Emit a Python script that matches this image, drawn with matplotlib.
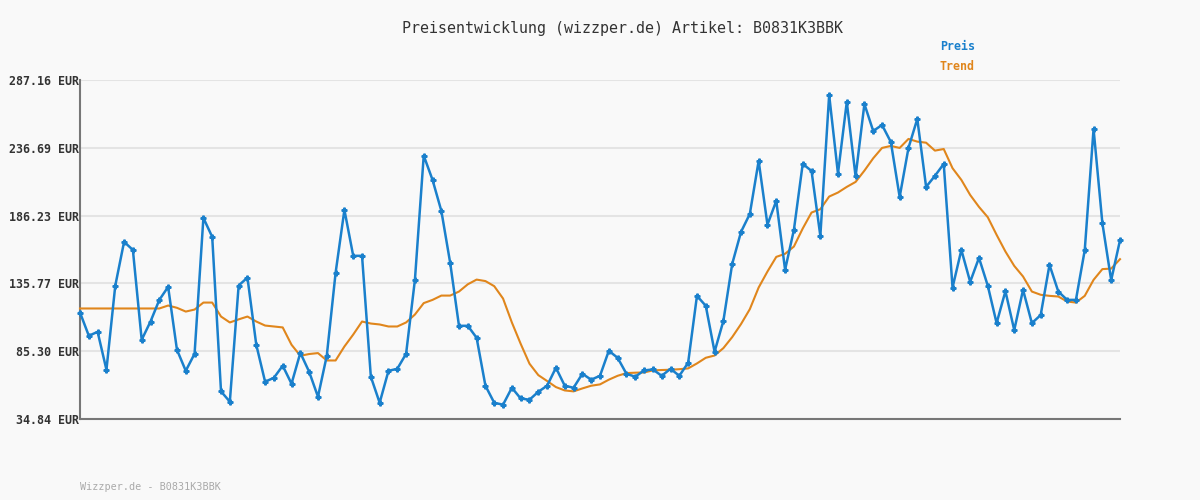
import matplotlib.pyplot as plt

# Preis und Trend (EUR)
preis = [114.1, 96.8, 99.7, 71.5, 134.0, 166.7, 160.7, 93.8, 107.4, 123.5,
         133.2, 86.4, 70.7, 83.4, 184.5, 170.4, 55.4, 47.7, 134.2, 140.1,
         90.1, 62.6, 65.5, 74.5, 61.1, 84.1, 70.0, 51.4, 81.9, 143.6,
         190.5, 156.3, 156.3, 66.3, 46.9, 70.7, 72.2, 83.4, 138.4, 230.9,
         212.8, 189.7, 151.1, 104.2, 104.2, 95.3, 59.6, 46.9, 45.5, 58.1,
         50.1, 49.2, 55.1, 59.6, 73.0, 59.6, 58.1, 68.5, 64.1, 67.0,
         85.6, 80.4, 68.5, 66.3, 71.0, 71.7, 67.0, 72.2, 67.0, 76.7,
         126.5, 119.1, 84.9, 107.9, 150.3, 174.1, 187.5, 226.9, 179.5, 197.2,
         145.9, 175.6, 224.7, 219.5, 171.1, 276.0, 217.5, 270.8, 215.4, 269.3,
         249.2, 253.7, 241.0, 200.1, 236.6, 258.2, 207.6, 215.8, 224.7, 132.7,
         160.7, 136.9, 154.8, 134.0, 106.2, 130.0, 101.0, 131.0, 106.2, 112.2,
         149.6, 129.7, 123.5, 123.5, 160.5, 250.7, 180.6, 138.2, 167.9]

trend = [117.1, 117.1, 117.1, 117.1, 117.1, 117.1, 117.1, 117.1, 117.1, 117.1,
         119.3, 117.6, 114.8, 116.3, 121.5, 121.5, 111.1, 106.7, 109.0, 111.1,
         107.4, 104.4, 103.7, 103.0, 90.1, 81.9, 83.2, 83.9, 78.4, 78.4,
         88.8, 97.7, 107.4, 105.9, 105.2, 103.7, 103.7, 106.7, 112.6, 121.1,
         123.5, 126.7, 126.7, 129.7, 135.1, 138.6, 137.5, 133.7, 124.5, 106.7,
         90.8, 76.0, 67.5, 63.1, 58.6, 56.1, 55.4, 57.6, 59.6, 60.6,
         64.1, 67.0, 69.0, 69.3, 69.5, 71.0, 71.3, 71.5, 71.9, 72.5,
         76.2, 80.4, 82.1, 87.6, 95.8, 105.5, 116.6, 132.7, 144.6, 155.5,
         157.8, 163.2, 176.6, 188.5, 191.0, 200.4, 203.4, 207.6, 211.3, 219.7,
         228.9, 236.6, 238.1, 236.6, 243.3, 241.3, 240.5, 234.6, 235.8, 221.5,
         212.8, 201.6, 192.7, 185.0, 171.9, 159.5, 148.8, 140.9, 129.7, 127.3,
         126.5, 126.0, 122.3, 121.5, 126.5, 138.4, 146.4, 146.8, 153.8]

ticks = [34.84, 85.30, 135.77, 186.23, 236.69, 287.16]
tick_labels = ["34.84 EUR", "85.30 EUR", "135.77 EUR", "186.23 EUR", "236.69 EUR", "287.16 EUR"]

blau = "#1a80cc"
orange = "#e0861c"
bg = "#f9f9f9"
mono = "DejaVu Sans Mono"

fig = plt.figure(figsize=(12, 5), dpi=100, facecolor=bg)
ax = fig.add_axes([80 / 1200, 1 - 419 / 500, 1040 / 1200, 339 / 500], facecolor=bg)

x = range(len(preis))
ax.plot(x, trend, color=orange, lw=1.5, zorder=3, clip_on=False)
ax.plot(x, preis, color=blau, lw=1.8, marker="P", ms=3.5, zorder=4, clip_on=False)

ax.set_xlim(0, len(preis) - 1)
ax.set_ylim(ticks[0], ticks[-1])
ax.set_xticks([])
ax.set_yticks(ticks)
ax.set_yticklabels(tick_labels, family=mono, fontsize=8.4, fontweight="bold", color="#333333")
ax.tick_params(axis="y", length=0, pad=1)
ax.grid(axis="y", color="#e4e4e4", lw=1.5, zorder=0)

for s in ["top", "right"]:
    ax.spines[s].set_visible(False)
for s in ["left", "bottom"]:
    ax.spines[s].set_color("#777777")
    ax.spines[s].set_linewidth(1.5)

fig.text(623 / 1200, 1 - 28 / 500, "Preisentwicklung (wizzper.de) Artikel: B0831K3BBK",
         family=mono, fontsize=10.8, color="#333333", ha="center", va="center")
fig.text(940 / 1200, 1 - 46 / 500, "Preis", family=mono, fontsize=8.4,
         fontweight="bold", color=blau, ha="left", va="center")
fig.text(940 / 1200, 1 - 67 / 500, "Trend", family=mono, fontsize=8.4,
         fontweight="bold", color=orange, ha="left", va="center")
fig.text(80 / 1200, 1 - 487 / 500, "Wizzper.de - B0831K3BBK", family=mono,
         fontsize=7.3, color="#aaaaaa", ha="left", va="center")

fig.savefig("out.png", dpi=100, facecolor=bg)
